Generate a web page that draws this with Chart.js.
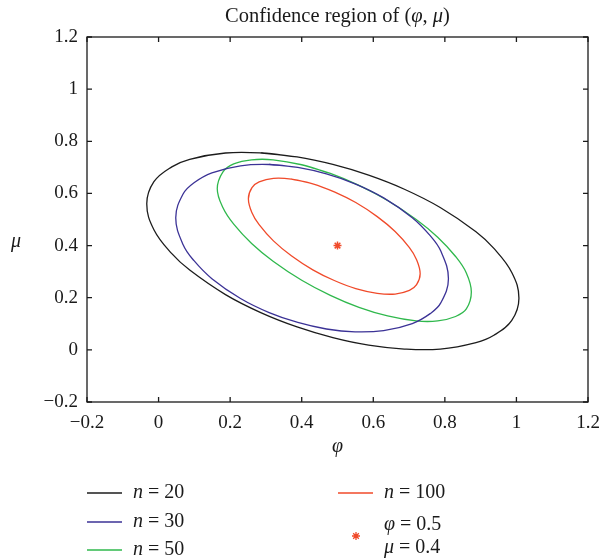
<!DOCTYPE html>
<html>
<head>
<meta charset="utf-8">
<script src="https://cdn.jsdelivr.net/npm/chart.js@4"></script>
<style>
  body { margin: 0; background: #fff; }
</style>
</head>
<body>
<canvas id="myChart" width="601" height="560"></canvas>
<script>
// Confidence ellipses, points as [phi, mu]
const n20 = [[-0.033, 0.560], [-0.013, 0.645], [0.037, 0.702], [0.087, 0.731], [0.187, 0.755], [0.287, 0.755],
  [0.387, 0.740], [0.487, 0.711], [0.587, 0.670], [0.687, 0.616], [0.787, 0.546], [0.887, 0.453], [0.937, 0.389],
  [0.987, 0.297], [1.007, 0.198], [0.987, 0.113], [0.937, 0.056], [0.887, 0.028], [0.787, 0.003], [0.687, 0.003],
  [0.587, 0.018], [0.487, 0.047], [0.387, 0.088], [0.287, 0.142], [0.187, 0.212], [0.087, 0.306], [0.037, 0.369],
  [-0.013, 0.461]];
const n30 = [[0.048, 0.507], [0.069, 0.599], [0.099, 0.641], [0.149, 0.679], [0.229, 0.706], [0.309, 0.711],
  [0.389, 0.700], [0.469, 0.675], [0.549, 0.637], [0.629, 0.583], [0.709, 0.507], [0.759, 0.438], [0.789, 0.378],
  [0.810, 0.273], [0.789, 0.181], [0.759, 0.139], [0.709, 0.101], [0.629, 0.074], [0.549, 0.069], [0.469, 0.080],
  [0.389, 0.105], [0.309, 0.143], [0.229, 0.197], [0.149, 0.273], [0.099, 0.342], [0.069, 0.402]];
const n50 = [[0.164, 0.618], [0.180, 0.683], [0.210, 0.713], [0.260, 0.729], [0.320, 0.729], [0.400, 0.710],
  [0.480, 0.677], [0.560, 0.631], [0.640, 0.573], [0.720, 0.500], [0.780, 0.432], [0.830, 0.358], [0.860, 0.295],
  [0.874, 0.222], [0.860, 0.157], [0.830, 0.128], [0.780, 0.111], [0.720, 0.111], [0.640, 0.130], [0.560, 0.163],
  [0.480, 0.209], [0.400, 0.267], [0.320, 0.340], [0.260, 0.408], [0.210, 0.482], [0.180, 0.545]];
const n100 = [[0.251, 0.580], [0.261, 0.622], [0.281, 0.644], [0.321, 0.658], [0.371, 0.655], [0.431, 0.637],
  [0.491, 0.606], [0.551, 0.565], [0.611, 0.511], [0.661, 0.454], [0.701, 0.392], [0.721, 0.346], [0.731, 0.292],
  [0.721, 0.250], [0.701, 0.228], [0.661, 0.214], [0.611, 0.217], [0.551, 0.235], [0.491, 0.266], [0.431, 0.307],
  [0.371, 0.361], [0.321, 0.418], [0.281, 0.480], [0.261, 0.526]];
const truePoint = [[0.5, 0.4]];

const seriesLabels = ['20', '30', '50', '100'];
const seriesColors = ['#1c1c1c', '#3b3296', '#2fb84c', '#f04a2a'];
const xTicks = [-0.2, 0, 0.2, 0.4, 0.6, 0.8, 1, 1.2];
const yTicks = [-0.2, 0, 0.2, 0.4, 0.6, 0.8, 1, 1.2];

const serif = '"Liberation Serif", "DejaVu Serif", serif';

// start each loop near the top (flat part) and run one point past the start,
// so the spline has no visible seam where it closes
const toPoints = arr => {
  const k = Math.floor(arr.length / 5);
  const ring = arr.slice(k).concat(arr.slice(0, k));
  return ring.concat([ring[0], ring[1]]).map(p => ({ x: p[0], y: p[1] }));
};

const ellipses = [n20, n30, n50, n100].map((arr, i) => ({
  label: seriesLabels[i],
  data: toPoints(arr),
  showLine: true,
  borderColor: seriesColors[i],
  borderWidth: 1.3,
  pointRadius: 0,
  tension: 0.4,
  fill: false
}));

const fmt = v => {
  const s = String(Math.round(v * 10) / 10);
  return s.replace('-', '\u2212');
};

// italic + regular text pieces
function partsWidth(ctx, parts, size) {
  let w = 0;
  parts.forEach(p => {
    ctx.font = (p.italic ? 'italic ' : '') + size + 'px ' + serif;
    w += ctx.measureText(p.t).width;
  });
  return w;
}
function drawParts(ctx, parts, x, y, size) {
  let cx = x;
  parts.forEach(p => {
    ctx.font = (p.italic ? 'italic ' : '') + size + 'px ' + serif;
    ctx.fillText(p.t, cx, y);
    cx += ctx.measureText(p.t).width;
  });
}

const framePlugin = {
  id: 'frame',
  afterDraw(chart) {
    const { ctx, chartArea: a, scales } = chart;
    ctx.save();
    ctx.strokeStyle = '#1a1a1a';
    ctx.lineWidth = 1.3;
    ctx.strokeRect(a.left, a.top, a.right - a.left, a.bottom - a.top);
    // inward ticks
    ctx.beginPath();
    xTicks.forEach(v => {
      const px = scales.x.getPixelForValue(v);
      ctx.moveTo(px, a.bottom); ctx.lineTo(px, a.bottom - 5);
      ctx.moveTo(px, a.top); ctx.lineTo(px, a.top + 5);
    });
    yTicks.forEach(v => {
      const py = scales.y.getPixelForValue(v);
      ctx.moveTo(a.left, py); ctx.lineTo(a.left + 5, py);
      ctx.moveTo(a.right, py); ctx.lineTo(a.right - 5, py);
    });
    ctx.stroke();

    // title and axis names
    ctx.fillStyle = '#1a1a1a';
    ctx.textBaseline = 'middle';
    ctx.textAlign = 'left';
    const title = [{ t: 'Confidence region of (' }, { t: '\u03c6', italic: true }, { t: ', ' },
      { t: '\u03bc', italic: true }, { t: ')' }];
    const w = partsWidth(ctx, title, 20.5);
    drawParts(ctx, title, (a.left + a.right) / 2 - w / 2, 17, 20.5);
    ctx.textAlign = 'center';
    ctx.font = 'italic 20px ' + serif;
    ctx.fillText('\u03c6', (a.left + a.right) / 2, 447);
    ctx.fillText('\u03bc', 16, 242);

    // legend
    ctx.textAlign = 'left';
    const slots = [[87, 493], [87, 522], [87, 550], [338, 493]];
    chart.data.datasets.slice(0, 4).forEach((ds, i) => {
      const [lx, ly] = slots[i];
      ctx.strokeStyle = ds.borderColor;
      ctx.lineWidth = 1.3;
      ctx.beginPath();
      ctx.moveTo(lx, ly); ctx.lineTo(lx + 35, ly);
      ctx.stroke();
      ctx.fillStyle = '#1a1a1a';
      drawParts(ctx, [{ t: 'n', italic: true }, { t: ' = ' + ds.label }], lx + 46, ly, 20);
    });
    Chart.helpers.drawPoint(ctx, { pointStyle: 'star', radius: 4, borderWidth: 1.5, rotation: 0 }, 356, 536);
    ctx.fillStyle = '#1a1a1a';
    drawParts(ctx, [{ t: '\u03c6', italic: true }, { t: ' = 0.5' }], 384, 525, 20);
    drawParts(ctx, [{ t: '\u03bc', italic: true }, { t: ' = 0.4' }], 384, 548, 20);
    ctx.restore();
  }
};

const ctx = document.getElementById('myChart').getContext('2d');

const myChart = new Chart(ctx, {
  type: 'scatter',
  data: {
    datasets: ellipses.concat([{
      label: 'true',
      data: truePoint.map(p => ({ x: p[0], y: p[1] })),
      pointStyle: 'star',
      pointRadius: 4,
      borderColor: '#f04a2a',
      backgroundColor: '#f04a2a',
      borderWidth: 1.5,
      showLine: false
    }])
  },
  options: {
    responsive: false,
    animation: false,
    devicePixelRatio: 1,
    layout: { padding: { top: 37, left: 0, right: 13, bottom: 0 } },
    plugins: {
      legend: { display: false },
      tooltip: { enabled: false }
    },
    scales: {
      x: {
        type: 'linear',
        min: -0.2,
        max: 1.2,
        afterFit: s => { s.height = 158; s.paddingLeft = 0; s.paddingRight = 0; },
        afterBuildTicks: s => { s.ticks = xTicks.map(v => ({ value: v })); },
        grid: { display: false, drawTicks: false },
        border: { display: false },
        ticks: {
          padding: 10,
          color: '#1a1a1a',
          font: { family: serif, size: 19 },
          callback: fmt,
          maxRotation: 0
        }
      },
      y: {
        type: 'linear',
        min: -0.2,
        max: 1.2,
        afterFit: s => { s.width = 87; s.paddingTop = 0; s.paddingBottom = 0; },
        afterBuildTicks: s => { s.ticks = yTicks.map(v => ({ value: v })); },
        grid: { display: false, drawTicks: false },
        border: { display: false },
        ticks: {
          padding: 9,
          color: '#1a1a1a',
          font: { family: serif, size: 19 },
          callback: fmt
        }
      }
    }
  },
  plugins: [framePlugin]
});
</script>
</body>
</html>
